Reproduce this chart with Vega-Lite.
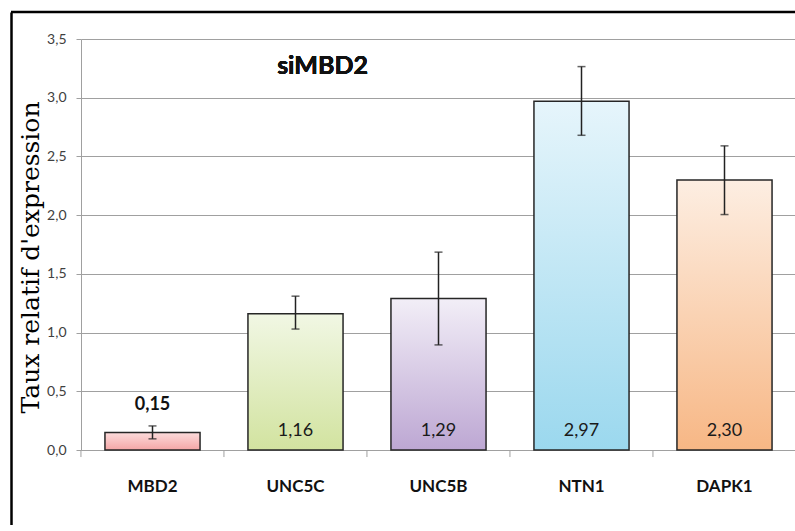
{
  "$schema": "https://vega.github.io/schema/vega-lite/v6.json",
  "autosize": "none",
  "width": 784,
  "height": 513,
  "padding": {"left": 11, "top": 12, "right": 0, "bottom": 0},
  "background": "white",
  "config": {
    "view": {"stroke": null},
    "locale": {"number": {"decimal": ",", "thousands": " ", "grouping": [3], "currency": ["", " €"]}}
  },
  "data": {
    "values": [
      {"gene": "MBD2", "value": 0.15, "lo": 0.095, "hi": 0.205},
      {"gene": "UNC5C", "value": 1.16, "lo": 1.03, "hi": 1.31},
      {"gene": "UNC5B", "value": 1.29, "lo": 0.895, "hi": 1.685},
      {"gene": "NTN1", "value": 2.97, "lo": 2.68, "hi": 3.265},
      {"gene": "DAPK1", "value": 2.30, "lo": 2.005, "hi": 2.59}
    ]
  },
  "resolve": {"scale": {"y": "independent"}, "axis": {"y": "independent"}},
  "layer": [
    {
      "layer": [
        {
          "mark": {"type": "bar", "stroke": "#262626", "strokeWidth": 1.5},
          "encoding": {
            "x": {
              "field": "gene", "type": "nominal", "sort": null,
              "scale": {"range": [70, 785], "paddingInner": 0.335, "paddingOuter": 0.1675},
              "axis": {
                "title": null, "orient": "bottom", "offset": -75, "ticks": false,
                "labelFont": "Lato", "labelFontWeight": "bold", "labelFontSize": 17, "labelColor": "#111111",
                "labelPadding": 28, "labelAngle": 0,
                "domainColor": "#a0a0a0", "grid": false
              }
            },
            "y": {
              "field": "value", "type": "quantitative", "title": "Taux relatif d'expression",
              "scale": {"domain": [0, 3.5], "range": [438, 27], "nice": false},
              "axis": {
                "title": "Taux relatif d'expression", "orient": "left", "offset": -70,
                "values": [0, 0.5, 1, 1.5, 2, 2.5, 3, 3.5], "format": ".1f",
                "grid": true, "gridColor": "#a0a0a0", "tickSize": 5, "tickColor": "#a0a0a0",
                "domainColor": "#a0a0a0", "labelFont": "Lato", "labelFontSize": 14,
                "labelColor": "#404040", "labelPadding": 10, "titleFont": "DejaVu Serif",
                "titleFontSize": 25, "titleFontWeight": "normal", "titleColor": "#000000",
                "titlePadding": 3, "titleY": 245
              }
            },
            "fill": {
              "condition": [
                {"test": "datum.gene === 'MBD2'", "value": {"gradient": "linear", "x1": 0, "y1": 0, "x2": 0, "y2": 1, "stops": [{"offset": 0, "color": "#fcdcdc"}, {"offset": 1, "color": "#f4a6a6"}]}},
                {"test": "datum.gene === 'UNC5C'", "value": {"gradient": "linear", "x1": 0, "y1": 0, "x2": 0, "y2": 1, "stops": [{"offset": 0, "color": "#f1f7e4"}, {"offset": 1, "color": "#d2e3a0"}]}},
                {"test": "datum.gene === 'UNC5B'", "value": {"gradient": "linear", "x1": 0, "y1": 0, "x2": 0, "y2": 1, "stops": [{"offset": 0, "color": "#f2eef7"}, {"offset": 1, "color": "#bda7d3"}]}},
                {"test": "datum.gene === 'NTN1'", "value": {"gradient": "linear", "x1": 0, "y1": 0, "x2": 0, "y2": 1, "stops": [{"offset": 0, "color": "#e6f5fb"}, {"offset": 1, "color": "#9bd8ee"}]}}
              ],
              "value": {"gradient": "linear", "x1": 0, "y1": 0, "x2": 0, "y2": 1, "stops": [{"offset": 0, "color": "#fdeee2"}, {"offset": 1, "color": "#f7b785"}]}
            }
          }
        },
        {
          "mark": {"type": "rule", "color": "#a0a0a0", "strokeWidth": 1, "xOffset": -24},
          "encoding": {
            "x": {"field": "gene", "type": "nominal", "sort": null, "bandPosition": 0},
            "y": {"datum": 0, "type": "quantitative", "title": "Taux relatif d'expression"},
            "y2": {"datum": -0.06}
          }
        },
        {
          "mark": {
            "type": "errorbar",
            "ticks": {"color": "#222222", "size": 8, "thickness": 1.5},
            "rule": {"color": "#222222", "strokeWidth": 1.5}
          },
          "encoding": {
            "x": {"field": "gene", "type": "nominal", "sort": null},
            "y": {"field": "lo", "type": "quantitative", "title": "Taux relatif d'expression"},
            "y2": {"field": "hi"}
          }
        },
        {
          "transform": [{"filter": "datum.gene !== 'MBD2'"}],
          "mark": {"type": "text", "font": "Lato", "fontSize": 18, "color": "#1a1a1a", "baseline": "alphabetic", "dy": -14},
          "encoding": {
            "x": {"field": "gene", "type": "nominal", "sort": null},
            "y": {"datum": 0, "type": "quantitative", "title": "Taux relatif d'expression"},
            "text": {"field": "value", "type": "quantitative", "format": ".2f"}
          }
        },
        {
          "transform": [{"filter": "datum.gene === 'MBD2'"}],
          "mark": {"type": "text", "font": "Lato", "fontSize": 18, "fontWeight": "bold", "color": "#111111", "baseline": "alphabetic", "dy": -22},
          "encoding": {
            "x": {"field": "gene", "type": "nominal", "sort": null},
            "y": {"field": "value", "type": "quantitative", "title": "Taux relatif d'expression"},
            "text": {"field": "value", "type": "quantitative", "format": ".2f"}
          }
        },
        {
          "mark": {"type": "text", "text": "siMBD2", "font": "Lato", "fontSize": 25, "fontWeight": "bold", "color": "#111111", "align": "center", "baseline": "alphabetic", "dx": 27},
          "encoding": {
            "x": {"datum": "UNC5C", "type": "nominal"},
            "y": {"datum": 3.2, "type": "quantitative", "title": "Taux relatif d'expression"}
          }
        }
      ]
    },
    {
      "data": {"values": [{"edge": 1}]},
      "mark": {"type": "rule", "color": "#000000", "strokeWidth": 2.5},
      "encoding": {
        "y": {
          "field": "edge", "type": "quantitative",
          "scale": {"domain": [0, 1], "nice": false},
          "axis": {
            "orient": "left", "offset": 0, "title": null, "labels": false, "ticks": false,
            "grid": false, "domain": true, "domainColor": "#000000", "domainWidth": 2.5
          }
        }
      }
    }
  ]
}
